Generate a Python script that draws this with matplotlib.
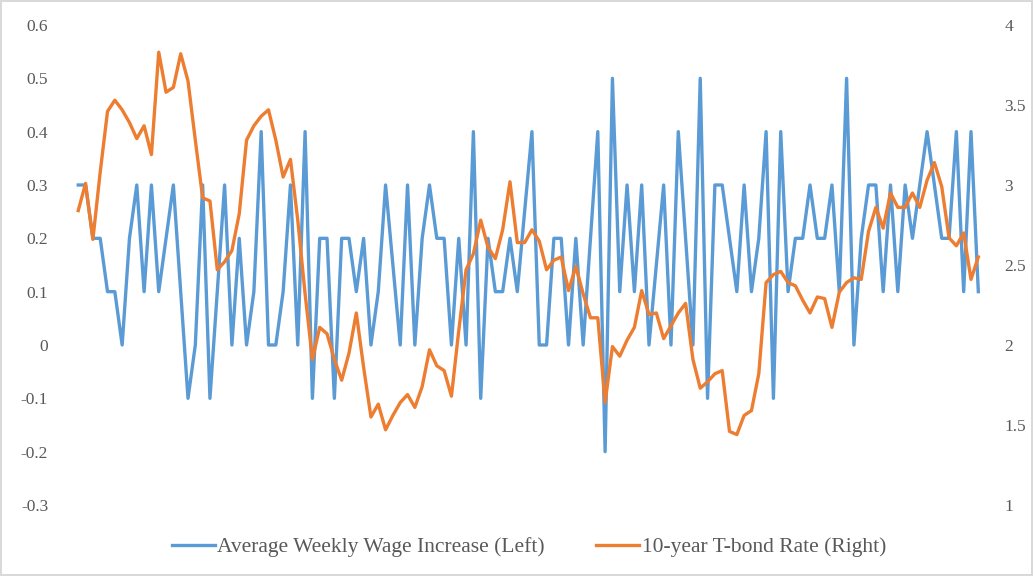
import matplotlib.pyplot as plt
import numpy as np

# monthly readings, left axis: wage increase (%), right axis: 10y yield (%)
wage_increase = [
    0.3, 0.3, 0.2, 0.2, 0.1, 0.1, 0.0, 0.2, 0.3, 0.1,
    0.3, 0.1, 0.2, 0.3, 0.1, -0.1, 0.0, 0.3, -0.1, 0.1,
    0.3, 0.0, 0.2, 0.0, 0.1, 0.4, 0.0, 0.0, 0.1, 0.3,
    0.0, 0.4, -0.1, 0.2, 0.2, -0.1, 0.2, 0.2, 0.1, 0.2,
    0.0, 0.1, 0.3, 0.15, 0.0, 0.3, 0.0, 0.2, 0.3, 0.2,
    0.2, 0.0, 0.2, 0.0, 0.4, -0.1, 0.2, 0.1, 0.1, 0.2,
    0.1, 0.25, 0.4, 0.0, 0.0, 0.2, 0.2, 0.0, 0.2, 0.0,
    0.2, 0.4, -0.2, 0.5, 0.1, 0.3, 0.1, 0.3, 0.0, 0.15,
    0.3, 0.0, 0.4, 0.2, 0.0, 0.5, -0.1, 0.3, 0.3, 0.2,
    0.1, 0.3, 0.1, 0.2, 0.4, -0.1, 0.4, 0.1, 0.2, 0.2,
    0.3, 0.2, 0.2, 0.3, 0.1, 0.5, 0.0, 0.2, 0.3, 0.3,
    0.1, 0.3, 0.1, 0.3, 0.2, 0.3, 0.4, 0.3, 0.2, 0.2,
    0.4, 0.1, 0.4, 0.1,
]

tbond_rate = [
    2.84, 3.01, 2.66, 3.08, 3.46, 3.53, 3.47, 3.39, 3.29, 3.37,
    3.19, 3.83, 3.58, 3.61, 3.82, 3.65, 3.28, 2.92, 2.90, 2.47,
    2.52, 2.59, 2.82, 3.28, 3.37, 3.43, 3.47, 3.28, 3.05, 3.16,
    2.78, 2.32, 1.91, 2.11, 2.07, 1.91, 1.78, 1.95, 2.20, 1.86,
    1.55, 1.63, 1.47, 1.56, 1.64, 1.69, 1.61, 1.74, 1.97, 1.87,
    1.84, 1.68, 2.09, 2.47, 2.57, 2.78, 2.61, 2.54, 2.72, 3.02,
    2.64, 2.64, 2.72, 2.65, 2.47, 2.53, 2.55, 2.34, 2.49, 2.32,
    2.17, 2.17, 1.64, 1.99, 1.93, 2.03, 2.11, 2.34, 2.19, 2.20,
    2.04, 2.12, 2.20, 2.26, 1.91, 1.73, 1.77, 1.82, 1.84, 1.46,
    1.44, 1.56, 1.59, 1.82, 2.39, 2.44, 2.46, 2.39, 2.37, 2.28,
    2.20, 2.30, 2.29, 2.11, 2.33, 2.39, 2.42, 2.41, 2.71, 2.86,
    2.73, 2.95, 2.86, 2.86, 2.95, 2.86, 3.03, 3.14, 2.99, 2.67,
    2.62, 2.70, 2.41, 2.55,
]

left_ticks = [-0.3, -0.2, -0.1, 0, 0.1, 0.2, 0.3, 0.4, 0.5, 0.6]
left_labels = ["-0.3", "-0.2", "-0.1", "0", "0.1", "0.2", "0.3", "0.4", "0.5", "0.6"]
right_ticks = [1, 1.5, 2, 2.5, 3, 3.5, 4]
right_labels = ["1", "1.5", "2", "2.5", "3", "3.5", "4"]

BLUE = "#5B9BD5"
ORANGE = "#ED7D31"
GREY = "#595959"

plt.rcParams["font.family"] = ["Liberation Serif", "DejaVu Serif"]

fig = plt.figure(figsize=(10.33, 5.76), dpi=100)
fig.patch.set_edgecolor("#D9D9D9")
fig.patch.set_linewidth(1.5)

ax = fig.add_axes([0.0722, 0.1233, 0.8784, 0.8333])
ax2 = ax.twinx()

x = np.arange(len(wage_increase))
ax.plot(x, wage_increase, color=BLUE, lw=2.4, solid_joinstyle="round",
        label="Average Weekly Wage Increase (Left)")
ax2.plot(x, tbond_rate, color=ORANGE, lw=2.4, solid_joinstyle="round",
         label="10-year T-bond Rate (Right)")

ax.set_xlim(-0.5, len(x) - 0.5)
ax.set_ylim(-0.3, 0.6)
ax2.set_ylim(1, 4)

ax.set_yticks(left_ticks)
ax.set_yticklabels(left_labels)
ax2.set_yticks(right_ticks)
ax2.set_yticklabels(right_labels)
ax.set_xticks([])

ax.tick_params(axis="y", length=0, pad=19, labelsize=12.5, labelcolor=GREY)
ax2.tick_params(axis="y", length=0, pad=16, labelsize=12.5, labelcolor=GREY)

for a in (ax, ax2):
    for s in a.spines.values():
        s.set_visible(False)

h1, l1 = ax.get_legend_handles_labels()
h2, l2 = ax2.get_legend_handles_labels()
leg = fig.legend(h1 + h2, l1 + l2, loc="center", bbox_to_anchor=(0.512, 0.05),
                 ncol=2, frameon=False, fontsize=15.5, handlelength=2.0,
                 handletextpad=0.1, columnspacing=2.4)
for t in leg.get_texts():
    t.set_color(GREY)

fig.savefig("out.png", dpi=100)
